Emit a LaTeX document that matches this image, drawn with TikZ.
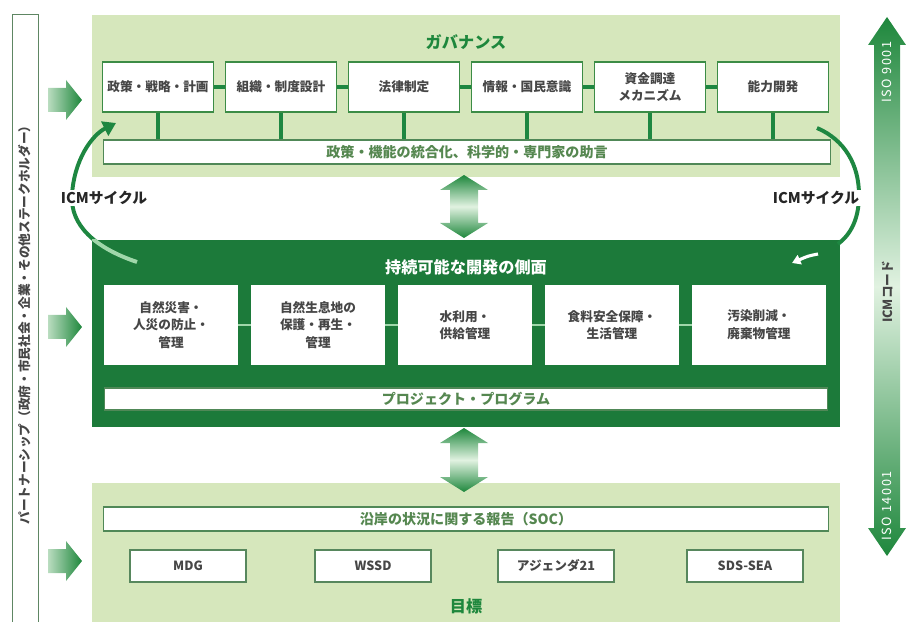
\documentclass[tikz,border=0pt]{standalone}
\usepackage{fontspec}
\setmainfont{Noto Sans CJK JP}
\usetikzlibrary{arrows.meta}

\definecolor{panelgreen}{RGB}{214,231,188}
\definecolor{darkgreen}{RGB}{28,122,58}
\definecolor{linegreen}{RGB}{60,140,70}
\definecolor{arcgreen}{RGB}{30,135,65}
\definecolor{arrowdark}{RGB}{30,135,60}
\definecolor{arrowlight}{RGB}{225,242,225}
\definecolor{textgray}{RGB}{70,70,70}
\definecolor{bartext}{RGB}{85,135,80}
\definecolor{palegreen}{RGB}{160,215,170}

\tikzset{
  gbox/.style={draw=linegreen, line width=1pt, fill=white, minimum width=2.775cm,
    minimum height=1.25cm, inner sep=0pt, align=center, text=textgray,
    font=\bfseries\fontsize{9}{12}\selectfont},
  dbox/.style={fill=white, minimum width=3.325cm, minimum height=2cm, inner sep=0pt,
    align=center, text=textgray, font=\bfseries\fontsize{9}{12.5}\selectfont},
  wbar/.style={draw=linegreen!70!gray, line width=0.8pt, fill=white, inner sep=0pt,
    text=bartext, font=\bfseries\fontsize{10}{12}\selectfont},
  goal/.style={draw=linegreen!60!gray, line width=0.8pt, fill=white, minimum width=2.9cm,
    minimum height=0.8cm, inner sep=0pt, text=textgray, font=\bfseries\fontsize{9}{11}\selectfont},
  title/.style={font=\bfseries\fontsize{11.5}{13}\selectfont},
  icm/.style={fill=white, inner sep=1pt, text=black!85, font=\bfseries\fontsize{10.5}{12}\selectfont},
  cycle arc/.style={draw=arcgreen, line width=2.8pt},
  boxlink/.style={draw=arcgreen, line width=2.2pt},
  isotext/.style={rotate=90, text=white, font=\fontsize{9}{10}\selectfont\addfontfeature{LetterSpace=12}},
}

\begin{document}
\begin{tikzpicture}[x=0.025cm, y=-0.025cm]

    % Page frame, 906 x 622 pixels
    \useasboundingbox (0,0) rectangle (906,622);

    % Partnership strip on the left
    \draw[draw=linegreen!50!gray, line width=0.6pt, fill=white] (12,14) rectangle (38,622);
    \node[rotate=90, text=textgray, font=\bfseries\fontsize{9}{11}\selectfont] (partner) at (25,322)
        {パートナーシップ（政府・市民社会・企業・その他ステークホルダー）};

    % The three panels
    \fill[panelgreen] (92,15) rectangle (840,177);
    \fill[darkgreen] (92,240) rectangle (840,427);
    \fill[panelgreen] (92,483) rectangle (840,622);

    % Governance
    \node[title, text=arrowdark] (gov) at (466,42) {ガバナンス};
    \node[gbox] (g1) at (158,87) {政策・戦略・計画};
    \node[gbox] (g2) at (281,87) {組織・制度設計};
    \node[gbox] (g3) at (404,87) {法律制定};
    \node[gbox] (g4) at (527,87) {情報・国民意識};
    \node[gbox] (g5) at (650,87) {資金調達\\メカニズム};
    \node[gbox] (g6) at (773,87) {能力開発};
    \node[wbar, minimum width=18.15cm, minimum height=0.6cm] (integ) at (467,152)
        {政策・機能の統合化、科学的・専門家の助言};

    % Links between the governance boxes
    \foreach \a/\b in {g1/g2, g2/g3, g3/g4, g4/g5, g5/g6}
        \draw[boxlink] (\a.east) -- (\b.west);
    \foreach \g in {g1, g2, g3, g4, g5, g6}
        \draw[boxlink] (\g.south) -- (\g.south |- integ.north);

    % Sustainable development
    \node[title, text=white] (sd) at (466,267) {持続可能な開発の側面};
    \node[dbox] (d1) at (171,325) {自然災害・\\人災の防止・\\管理};
    \node[dbox] (d2) at (318,325) {自然生息地の\\保護・再生・\\管理};
    \node[dbox] (d3) at (465,325) {水利用・\\供給管理};
    \node[dbox] (d4) at (612,325) {食料安全保障・\\生活管理};
    \node[dbox] (d5) at (759,325) {汚染削減・\\廃棄物管理};
    \foreach \a/\b in {d1/d2, d2/d3, d3/d4, d4/d5}
        \draw[palegreen, line width=2pt] (\a.east) -- (\b.west);
    \node[wbar, minimum width=18.075cm, minimum height=0.55cm] (proj) at (466,399)
        {プロジェクト・プログラム};

    % Goals
    \node[wbar, minimum width=18.125cm, minimum height=0.6cm] (soc) at (466,519)
        {沿岸の状況に関する報告（SOC）};
    \node[goal] (mdg) at (188,566) {MDG};
    \node[goal] (wssd) at (373,566) {WSSD};
    \node[goal] (agenda) at (556,566) {アジェンダ21};
    \node[goal] (sds) at (745,566) {SDS-SEA};
    \node[title, text=arrowdark] (target) at (466,606) {目標};

    % Double arrows between the panels
    \shade[top color=arrowdark, bottom color=arrowdark, middle color=arrowlight]
        (464,175) -- (488,190) -- (478,190) -- (478,223) -- (488,223) -- (464,238)
        -- (440,223) -- (450,223) -- (450,190) -- (440,190) -- cycle;
    \shade[top color=arrowdark, bottom color=arrowdark, middle color=arrowlight]
        (464,428) -- (488,443) -- (478,443) -- (478,477) -- (488,477) -- (464,492)
        -- (440,477) -- (450,477) -- (450,443) -- (440,443) -- cycle;

    % Arrows from the partnership strip
    \foreach \y in {100,327,561}
        \shade[left color=arrowlight!80!arrowdark, right color=arrowdark]
            (48,\y-12) -- (66,\y-12) -- (66,\y-20) -- (82,\y) -- (66,\y+20)
            -- (66,\y+12) -- (48,\y+12) -- cycle;

    % ICM code bar on the right
    \shade[top color=arrowdark, bottom color=arrowdark, middle color=arrowlight]
        (887,17) -- (906,45) -- (900,45) -- (900,528) -- (906,528) -- (887,556)
        -- (868,528) -- (874,528) -- (874,45) -- (868,45) -- cycle;
    \node[isotext] (iso1) at (887,72) {ISO 9001};
    \node[rotate=90, text=textgray, font=\bfseries\fontsize{9}{11}\selectfont] (icmcode) at (888,292) {ICMコード};
    \node[isotext] (iso2) at (887,506) {ISO 14001};

    % ICM cycle, left side going up, right side coming down
    \draw[cycle arc, -{Triangle[length=9pt, width=11pt]}]
        (137,262) .. controls (95,248) and (70,225) .. (72,195)
        .. controls (74,160) and (92,135) .. (116,123);
    \begin{scope}
        \clip (92,240) rectangle (840,427);
        \draw[palegreen, line width=2.8pt] (137,262) .. controls (95,248) and (70,225) .. (72,195);
    \end{scope}
    \draw[cycle arc] (817,128) .. controls (845,140) and (859,165) .. (859,195)
        .. controls (859,220) and (850,235) .. (838,244);
    \draw[white, line width=2.2pt, -{Triangle[length=6pt, width=7pt]}]
        (818,254) .. controls (808,256) .. (792,263);
    \node[icm] (icmL) at (104,198) {ICMサイクル};
    \node[icm] (icmR) at (816,198) {ICMサイクル};

\end{tikzpicture}
\end{document}
